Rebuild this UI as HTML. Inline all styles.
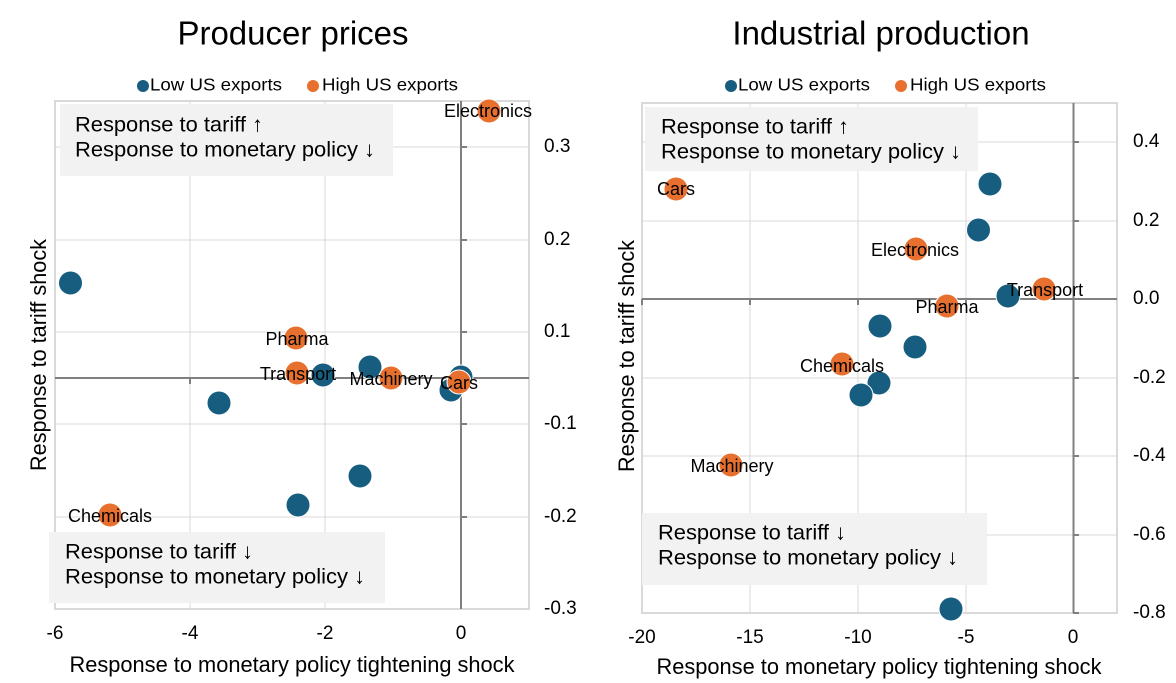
<!DOCTYPE html>
<html><head><meta charset="utf-8"><style>
body{margin:0;background:#fff}
svg{display:block;font-family:"Liberation Sans",Arial,sans-serif}
.g{stroke:#d9d9d9;stroke-width:1}
.f{fill:none;stroke:#d9d9d9;stroke-width:2}
.ax{stroke:#808080;stroke-width:2}
.b{fill:#175d80;stroke:#fff;stroke-width:1}
.o{fill:#e8702e;stroke:#fff;stroke-width:1}
.l{font-size:18px;fill:#000;text-anchor:middle;dominant-baseline:middle}
.t{font-size:19px;fill:#000;dominant-baseline:middle}
.lg{font-size:17.5px;fill:#000;dominant-baseline:middle}
.bx{font-size:21.5px;fill:#000;dominant-baseline:middle}
.at{font-size:22px;fill:#000;dominant-baseline:middle;text-anchor:middle}
</style></head><body>
<svg width="1176" height="683" viewBox="0 0 1176 683">
<!-- LEFT -->
<text x="293" y="36" font-size="33" text-anchor="middle" dominant-baseline="middle">Producer prices</text>
<circle cx="143" cy="86" r="6" fill="#175d80"/><text x="150" y="86" class="lg" textLength="132" lengthAdjust="spacingAndGlyphs">Low US exports</text>
<circle cx="313" cy="86" r="6" fill="#e8702e"/><text x="322" y="86" class="lg" textLength="136" lengthAdjust="spacingAndGlyphs">High US exports</text>
<g class="g">
<line x1="55" y1="147" x2="529" y2="147"/><line x1="55" y1="240" x2="529" y2="240"/><line x1="55" y1="332" x2="529" y2="332"/><line x1="55" y1="424" x2="529" y2="424"/><line x1="55" y1="517" x2="529" y2="517"/>
<line x1="190" y1="101" x2="190" y2="609"/><line x1="325" y1="101" x2="325" y2="609"/>
</g>
<rect x="55" y="101" width="474" height="508" class="f"/>
<line x1="55" y1="378" x2="529" y2="378" class="ax"/>
<line x1="461" y1="101" x2="461" y2="609" class="ax"/>
<g class="ax"><line x1="461" y1="147" x2="467" y2="147"/><line x1="461" y1="240" x2="467" y2="240"/><line x1="461" y1="332" x2="467" y2="332"/><line x1="461" y1="424" x2="467" y2="424"/><line x1="461" y1="517" x2="467" y2="517"/><line x1="190" y1="378" x2="190" y2="384"/><line x1="325" y1="378" x2="325" y2="384"/></g>
<rect x="60" y="104" width="333" height="72" fill="#f2f2f2"/>
<text x="75" y="126" class="bx" textLength="188" lengthAdjust="spacingAndGlyphs">Response to tariff ↑</text>
<text x="75" y="151" class="bx" textLength="300" lengthAdjust="spacingAndGlyphs">Response to monetary policy ↓</text>
<rect x="49" y="532" width="336" height="71" fill="#f2f2f2"/>
<text x="65" y="553" class="bx" textLength="188" lengthAdjust="spacingAndGlyphs">Response to tariff ↓</text>
<text x="65" y="578" class="bx" textLength="300" lengthAdjust="spacingAndGlyphs">Response to monetary policy ↓</text>
<g>
<circle class="b" cx="70.5" cy="283" r="12"/><circle class="b" cx="219" cy="403" r="12"/><circle class="b" cx="323" cy="375" r="12"/><circle class="b" cx="370" cy="367" r="12"/><circle class="b" cx="451" cy="390" r="12"/><circle class="b" cx="461" cy="377" r="12"/><circle class="b" cx="360" cy="476" r="12"/><circle class="b" cx="298" cy="505" r="12"/>
<circle class="o" cx="489" cy="111" r="12"/><circle class="o" cx="296" cy="338" r="12"/><circle class="o" cx="297" cy="373" r="12"/><circle class="o" cx="391" cy="378" r="12"/><circle class="o" cx="459" cy="382" r="12"/><circle class="o" cx="110" cy="515" r="12"/>
</g>
<text class="l" x="488" y="112">Electronics</text><text class="l" x="297" y="340">Pharma</text><text class="l" x="298" y="375">Transport</text><text class="l" x="391" y="380">Machinery</text><text class="l" x="459" y="384">Cars</text><text class="l" x="110" y="517">Chemicals</text>
<g class="t"><text x="544" y="147">0.3</text><text x="544" y="240">0.2</text><text x="544" y="332">0.1</text><text x="544" y="424">-0.1</text><text x="544" y="517">-0.2</text><text x="544" y="609">-0.3</text></g>
<g class="t" text-anchor="middle"><text x="55" y="634">-6</text><text x="190" y="634">-4</text><text x="325" y="634">-2</text><text x="461" y="634">0</text></g>
<text x="292" y="666" class="at" textLength="445" lengthAdjust="spacingAndGlyphs">Response to monetary policy tightening  shock</text>
<text transform="translate(40,355) rotate(-90)" class="at" textLength="232" lengthAdjust="spacingAndGlyphs">Response to tariff shock</text>
<!-- RIGHT -->
<text x="881" y="36" font-size="33" text-anchor="middle" dominant-baseline="middle">Industrial production</text>
<circle cx="731" cy="86" r="6" fill="#175d80"/><text x="738" y="86" class="lg" textLength="132" lengthAdjust="spacingAndGlyphs">Low US exports</text>
<circle cx="901" cy="86" r="6" fill="#e8702e"/><text x="910" y="86" class="lg" textLength="136" lengthAdjust="spacingAndGlyphs">High US exports</text>
<g class="g">
<line x1="642" y1="142" x2="1117" y2="142"/><line x1="642" y1="221" x2="1117" y2="221"/><line x1="642" y1="378" x2="1117" y2="378"/><line x1="642" y1="456" x2="1117" y2="456"/><line x1="642" y1="535" x2="1117" y2="535"/>
<line x1="750" y1="103" x2="750" y2="613"/><line x1="858" y1="103" x2="858" y2="613"/><line x1="966" y1="103" x2="966" y2="613"/>
</g>
<rect x="642" y="103" width="475" height="510" class="f"/>
<line x1="642" y1="299" x2="1117" y2="299" class="ax"/>
<line x1="1073.5" y1="103" x2="1073.5" y2="613" class="ax"/>
<g class="ax"><line x1="1073" y1="142" x2="1079" y2="142"/><line x1="1073" y1="221" x2="1079" y2="221"/><line x1="1073" y1="378" x2="1079" y2="378"/><line x1="1073" y1="456" x2="1079" y2="456"/><line x1="1073" y1="535" x2="1079" y2="535"/><line x1="1073" y1="613" x2="1079" y2="613"/><line x1="642" y1="299" x2="642" y2="305"/><line x1="750" y1="299" x2="750" y2="305"/><line x1="858" y1="299" x2="858" y2="305"/><line x1="966" y1="299" x2="966" y2="305"/></g>
<rect x="645" y="107" width="333" height="64" fill="#f2f2f2"/>
<text x="661" y="128" class="bx" textLength="188" lengthAdjust="spacingAndGlyphs">Response to tariff ↑</text>
<text x="661" y="153" class="bx" textLength="300" lengthAdjust="spacingAndGlyphs">Response to monetary policy ↓</text>
<rect x="642" y="513" width="345" height="72" fill="#f2f2f2"/>
<text x="658" y="534" class="bx" textLength="188" lengthAdjust="spacingAndGlyphs">Response to tariff ↓</text>
<text x="658" y="559" class="bx" textLength="300" lengthAdjust="spacingAndGlyphs">Response to monetary policy ↓</text>
<g>
<circle class="b" cx="990" cy="184" r="12"/><circle class="b" cx="978.5" cy="230" r="12"/><circle class="b" cx="1008" cy="296" r="12"/><circle class="b" cx="880" cy="326" r="12"/><circle class="b" cx="915" cy="347" r="12"/><circle class="b" cx="879" cy="383" r="12"/><circle class="b" cx="861" cy="395" r="12"/><circle class="b" cx="951" cy="609" r="12"/>
<circle class="o" cx="676" cy="189" r="12"/><circle class="o" cx="916" cy="249" r="12"/><circle class="o" cx="1044" cy="289" r="12"/><circle class="o" cx="947" cy="306" r="12"/><circle class="o" cx="842" cy="364" r="12"/><circle class="o" cx="731" cy="465" r="12"/>
</g>
<text class="l" x="676" y="190">Cars</text><text class="l" x="915" y="251">Electronics</text><text class="l" x="1045" y="291">Transport</text><text class="l" x="947" y="308">Pharma</text><text class="l" x="842" y="367">Chemicals</text><text class="l" x="732" y="467">Machinery</text>
<g class="t"><text x="1133" y="142">0.4</text><text x="1133" y="221">0.2</text><text x="1133" y="299">0.0</text><text x="1133" y="378">-0.2</text><text x="1133" y="456">-0.4</text><text x="1133" y="535">-0.6</text><text x="1133" y="613">-0.8</text></g>
<g class="t" text-anchor="middle"><text x="642" y="638">-20</text><text x="750" y="638">-15</text><text x="858" y="638">-10</text><text x="966" y="638">-5</text><text x="1073" y="638">0</text></g>
<text x="879" y="668" class="at" textLength="445" lengthAdjust="spacingAndGlyphs">Response to monetary policy tightening  shock</text>
<text transform="translate(628,356) rotate(-90)" class="at" textLength="232" lengthAdjust="spacingAndGlyphs">Response to tariff shock</text>
</svg>
</body></html>
